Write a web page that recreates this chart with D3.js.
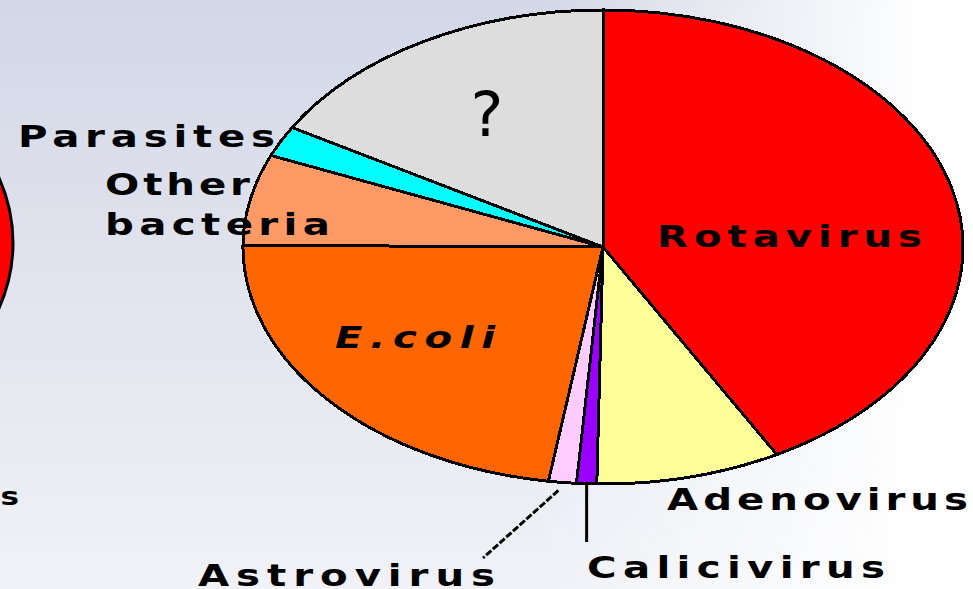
<!DOCTYPE html>
<html>
<head>
  <meta charset="utf-8">
  <script src="https://d3js.org/d3.v7.min.js"></script>
  <style>
    body { margin: 0; overflow: hidden; }
    text { font-family: "DejaVu Sans", sans-serif; font-weight: bold; fill: #000; }
  </style>
</head>
<body>
  <div id="my_dataviz"></div>
<script>

  // slices, clockwise from 12 o'clock (percent of cases)
  var categories = ["Rotavirus", "Adenovirus", "Calicivirus", "Astrovirus", "E.coli", "Other bacteria", "Parasites", "?"];
  var shares = [42.0, 8.3, 0.9, 1.25, 22.7, 6.2, 2.1, 16.6];
  var colors = ["#ff0000", "#ffff99", "#9900ff", "#ffccff", "#ff6600", "#ff9966", "#00ffff", "#dddddd"];

  var width = 973, height = 589;
  var cx = 603, cy = 247, rx = 360, ry = 237;
  var stretch = 1.3;   // the original lettering is wide and blocky

  var svg = d3.select("#my_dataviz")
    .append("svg")
      .attr("width", width)
      .attr("height", height);

  // background: bluish grey at top left, fading to white on the right
  var defs = svg.append("defs");
  var g1 = defs.append("linearGradient").attr("id", "bgv").attr("x1", 0).attr("y1", 0).attr("x2", 0).attr("y2", 1);
  g1.append("stop").attr("offset", "0%").attr("stop-color", "#d3d7e6");
  g1.append("stop").attr("offset", "100%").attr("stop-color", "#f1f2f7");
  var g2 = defs.append("linearGradient").attr("id", "bgh").attr("x1", 0).attr("y1", 0).attr("x2", 1).attr("y2", 0);
  g2.append("stop").attr("offset", "55%").attr("stop-color", "#ffffff").attr("stop-opacity", 0);
  g2.append("stop").attr("offset", "95%").attr("stop-color", "#ffffff").attr("stop-opacity", 1);

  svg.append("rect").attr("width", width).attr("height", height).attr("fill", "url(#bgv)");
  svg.append("rect").attr("width", width).attr("height", height).attr("fill", "url(#bgh)");

  // edge of the neighbouring pie, cut off at the left
  svg.append("ellipse")
    .attr("cx", -350).attr("cy", cy - 4).attr("rx", rx + 3).attr("ry", ry)
    .attr("fill", "#ff0000").attr("stroke", "#000").attr("stroke-width", 3);
  svg.append("text")
    .attr("transform", "translate(19,505) scale(" + stretch + ",1)")
    .attr("text-anchor", "end")
    .style("font-size", "24px")
    .text("us");

  // the pie, squashed into an ellipse
  var pie = d3.pie().sort(null).value(function(d) { return d; });
  var arcs = pie(shares);
  var arc = d3.arc().innerRadius(0).outerRadius(rx);

  var pieG = svg.append("g")
    .attr("transform", "translate(" + cx + "," + cy + ") scale(1," + (ry / rx) + ")");

  pieG.selectAll("path")
    .data(arcs)
    .enter()
    .append("path")
      .attr("d", arc)
      .attr("fill", function(d, i) { return colors[i]; })
      .attr("stroke", "#000")
      .attr("stroke-width", 3)
      .attr("vector-effect", "non-scaling-stroke")
      .attr("shape-rendering", "crispEdges");

  // point on the ellipse rim at the middle of a slice
  function rim(i, k) {
    var a = (arcs[i].startAngle + arcs[i].endAngle) / 2;
    return [cx + k * rx * Math.sin(a), cy - k * ry * Math.cos(a)];
  }

  // label layout: x, baseline, text length
  var labelPos = {
    "Parasites":   [18, 147, 257],
    "Other":       [105, 195, 145],
    "bacteria":    [105, 235, 225],
    "Rotavirus":   [657, 247, 265],
    "E.coli":      [335, 348, 160],
    "Adenovirus":  [667, 510, 301],
    "Calicivirus": [587, 578, 298],
    "Astrovirus":  [198, 586, 297]
  };

  Object.keys(labelPos).forEach(function(name) {
    var p = labelPos[name];
    svg.append("text")
      .attr("transform", "translate(" + p[0] + "," + p[1] + ") scale(" + stretch + ",1)")
      .attr("textLength", p[2] / stretch)
      .attr("lengthAdjust", "spacing")
      .style("font-size", "31px")
      .style("font-style", name === "E.coli" ? "italic" : "normal")
      .text(name);
  });

  svg.append("text")
    .attr("x", 487).attr("y", 136)
    .attr("text-anchor", "middle")
    .style("font-size", "62px")
    .style("font-weight", "normal")
    .text(categories[7]);

  // leader lines for the two thin slices
  var astro = rim(3, 1.0);
  svg.append("line")
    .attr("x1", astro[0] - 4).attr("y1", astro[1] + 8)
    .attr("x2", 483).attr("y2", 558)
    .attr("stroke", "#000").attr("stroke-width", 3)
    .attr("stroke-dasharray", "7,2");
  var calici = rim(2, 1.0);
  svg.append("line")
    .attr("x1", calici[0]).attr("y1", calici[1])
    .attr("x2", calici[0]).attr("y2", 542)
    .attr("stroke", "#000").attr("stroke-width", 3);

</script>
</body>
</html>
